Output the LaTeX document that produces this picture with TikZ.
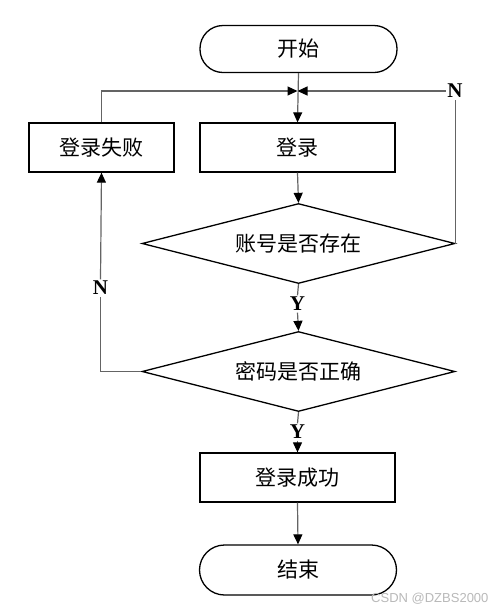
\documentclass[tikz,border=0pt]{standalone}
\usepackage{fontspec}
\setmainfont{Liberation Serif}
\newfontfamily\cjk{Noto Sans CJK SC}
\newfontfamily\wmfont{Liberation Sans}
\usetikzlibrary{shapes.geometric,arrows.meta}
\begin{document}
\begin{tikzpicture}[x=1pt,y=-1pt,
  every node/.style={font=\cjk\fontsize{21}{23}\selectfont},
  procbox/.style={draw=black,line width=1.3pt,rectangle,minimum width=195pt,minimum height=49pt,inner sep=0pt},
  termbox/.style={draw=black,line width=1.3pt,rectangle,rounded corners=23pt,minimum width=197pt,minimum height=47pt,inner sep=0pt},
  decbox/.style={draw=black,line width=1.3pt,diamond,aspect=3.9,minimum width=313pt,minimum height=80pt,inner sep=0pt},
  yn/.style={font=\bfseries\fontsize{21}{22}\selectfont,inner sep=1.5pt},
  conn/.style={draw={rgb,255:red,100;green,100;blue,100},line width=1.2pt},
  arr/.style={conn,-{Triangle[length=10pt,width=9pt,fill=black,color=black]}}
]
\useasboundingbox (0,0) rectangle (502,614);
\fill[white] (0,0) rectangle (502,614);

\node[termbox] (start) at (298.5,49) {开始};
\node[procbox] (login) at (297.5,147.5) {登录};
\node[procbox,minimum width=145pt] (fail) at (101.5,147.5) {登录失败};
\node[decbox] (d1) at (298.5,243.5) {账号是否存在};
\node[decbox] (d2) at (298.5,371.5) {密码是否正确};
\node[procbox] (succ) at (297.5,477.5) {登录成功};
\node[termbox,minimum height=50pt,rounded corners=25pt] (stop) at (298,570) {结束};

\coordinate (J) at (297.5,91);
\node[yn] (NR) at (455,91) {N};
\node[yn] (NL) at (100.5,288) {N};
\node[yn] (Y1) at (297.5,304) {Y};
\node[yn] (Y2) at (297.5,432) {Y};

\draw[arr] (start.south) -- (login.north);
\draw[arr] (fail.north) |- (J);
\draw[conn] (d1.east) -- (d1.east |- NR.south);
\draw[arr] (NR.west) -- (J);
\draw[arr] (login.south) -- (d1.north);
\draw[conn] (d1.south) -- (Y1.north);
\draw[arr] (Y1.south) -- (d2.north);
\draw[conn] (d2.west) -| (NL.south);
\draw[arr] (NL.north) -- (fail.south);
\draw[conn] (d2.south) -- (Y2.north);
\draw[arr] (Y2.south) -- (succ.north);
\draw[arr] (succ.south) -- (stop.north);

\node[font=\wmfont\fontsize{13}{14}\selectfont,text={rgb,255:red,185;green,185;blue,185},anchor=east] (wm) at (492,599) {CSDN @DZBS2000};
\end{tikzpicture}
\end{document}
